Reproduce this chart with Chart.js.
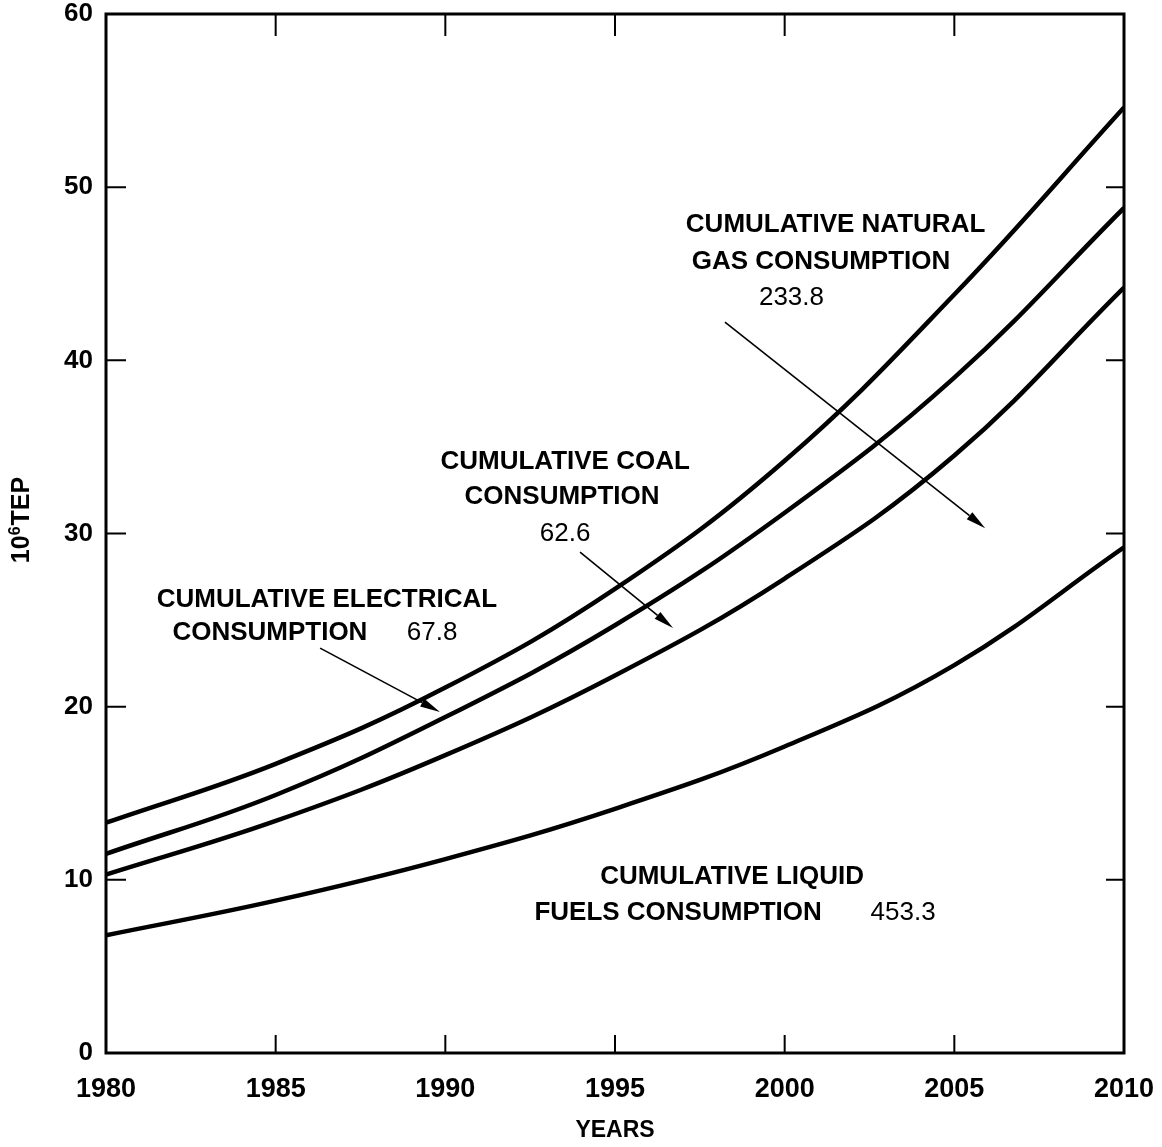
<!DOCTYPE html>
<html>
<head>
<meta charset="utf-8">
<script src="https://cdn.jsdelivr.net/npm/chart.js@4.4.0/dist/chart.umd.min.js"></script>
<style>
  html, body { margin: 0; padding: 0; background: #fff; }
</style>
</head>
<body>
<canvas id="chart" width="1162" height="1147"></canvas>
<script>
// cumulative consumption curves (10^6 TEP)
const years = [1980, 1985, 1990, 1995, 2000, 2005, 2010];
const liquidFuels = [6.8, 8.8, 11.2, 14.1, 17.7, 22.4, 29.2];
const withNaturalGas = [10.3, 13.4, 17.2, 21.8, 27.4, 34.5, 44.2];
const withCoal = [11.5, 14.9, 19.4, 24.7, 31.2, 39.0, 48.8];
const withElectrical = [13.3, 16.7, 21.1, 26.8, 34.2, 43.8, 54.6];

const yTicks = [0, 10, 20, 30, 40, 50, 60];
const xTicks = [1980, 1985, 1990, 1995, 2000, 2005, 2010];

// labels placed in data units (year, value)
const notes = [
    { text: "CUMULATIVE NATURAL", x: 2001.5, y: 47.8, bold: true },
    { text: "GAS CONSUMPTION", x: 2001.07, y: 45.67, bold: true },
    { text: "233.8", x: 2000.2, y: 43.6, bold: false },
    { text: "CUMULATIVE COAL", x: 1993.53, y: 34.12, bold: true },
    { text: "CONSUMPTION", x: 1993.44, y: 32.1, bold: true },
    { text: "62.6", x: 1993.53, y: 29.97, bold: false },
    { text: "CUMULATIVE ELECTRICAL", x: 1986.51, y: 26.15, bold: true },
    { text: "CONSUMPTION", x: 1984.83, y: 24.25, bold: true },
    { text: "67.8", x: 1989.61, y: 24.25, bold: false },
    { text: "CUMULATIVE LIQUID", x: 1998.45, y: 10.16, bold: true },
    { text: "FUELS CONSUMPTION", x: 1996.86, y: 8.08, bold: true },
    { text: "453.3", x: 2003.49, y: 8.08, bold: false }
];

const arrows = [
    { x1: 1998.24, y1: 42.21, x2: 2005.91, y2: 30.31 },
    { x1: 1993.97, y1: 28.93, x2: 1996.71, y2: 24.54 },
    { x1: 1986.31, y1: 23.38, x2: 1989.84, y2: 19.69 }
];

const FONT = "'Liberation Sans', Arial, Helvetica, sans-serif";

function toPoints(values) {
    return years.map((yr, i) => ({ x: yr, y: values[i] }));
}

function makeLine(label, values) {
    return {
        label: label,
        data: toPoints(values),
        borderColor: "#000",
        borderWidth: 4.5,
        pointRadius: 0,
        fill: false,
        tension: 0.4
    };
}

const decorations = {
    id: "decorations",
    afterDraw(chart) {
        const ctx = chart.ctx;
        const a = chart.chartArea;
        const xs = chart.scales.x;
        const ys = chart.scales.y;
        ctx.save();
        ctx.strokeStyle = "#000";
        ctx.fillStyle = "#000";

        // frame
        ctx.lineWidth = 3;
        ctx.strokeRect(a.left, a.top, a.right - a.left, a.bottom - a.top);

        // inward ticks
        ctx.lineWidth = 2;
        ctx.beginPath();
        yTicks.slice(1, -1).forEach(v => {
            const py = ys.getPixelForValue(v);
            ctx.moveTo(a.left, py); ctx.lineTo(a.left + 20, py);
            ctx.moveTo(a.right - 18, py); ctx.lineTo(a.right, py);
        });
        xTicks.slice(1, -1).forEach(v => {
            const px = xs.getPixelForValue(v);
            ctx.moveTo(px, a.bottom); ctx.lineTo(px, a.bottom - 18);
            ctx.moveTo(px, a.top); ctx.lineTo(px, a.top + 22);
        });
        ctx.stroke();

        // axis titles
        ctx.font = "bold 23px " + FONT;
        ctx.textAlign = "center";
        ctx.textBaseline = "middle";
        ctx.fillText("YEARS", 615, 1131);

        ctx.save();
        ctx.translate(22, 520);
        ctx.rotate(-Math.PI / 2);
        ctx.textAlign = "left";
        ctx.textBaseline = "middle";
        const big = "bold 25px " + FONT, small = "bold 16px " + FONT;
        ctx.font = big; const w1 = ctx.measureText("10").width;
        const w3 = ctx.measureText("TEP").width;
        ctx.font = small; const w2 = ctx.measureText("6").width + 1;
        let sx = -(w1 + w2 + w3) / 2;
        ctx.font = big; ctx.fillText("10", sx, 0);
        ctx.font = small; ctx.fillText("6", sx + w1, -6);
        ctx.font = big; ctx.fillText("TEP", sx + w1 + w2, 0);
        ctx.restore();

        // notes
        notes.forEach(n => {
            ctx.font = (n.bold ? "bold " : "") + "26px " + FONT;
            ctx.fillText(n.text, xs.getPixelForValue(n.x), ys.getPixelForValue(n.y));
        });

        // arrows
        ctx.lineWidth = 1.6;
        arrows.forEach(ar => {
            const x1 = xs.getPixelForValue(ar.x1), y1 = ys.getPixelForValue(ar.y1);
            const x2 = xs.getPixelForValue(ar.x2), y2 = ys.getPixelForValue(ar.y2);
            const ang = Math.atan2(y2 - y1, x2 - x1);
            const len = 20, half = 4.5;
            const bx = x2 - len * Math.cos(ang), by = y2 - len * Math.sin(ang);
            ctx.beginPath();
            ctx.moveTo(x1, y1); ctx.lineTo(bx, by);
            ctx.stroke();
            ctx.beginPath();
            ctx.moveTo(x2, y2);
            ctx.lineTo(bx + half * Math.sin(ang), by - half * Math.cos(ang));
            ctx.lineTo(bx - half * Math.sin(ang), by + half * Math.cos(ang));
            ctx.closePath();
            ctx.fill();
        });
        ctx.restore();
    }
};

new Chart(document.getElementById("chart").getContext("2d"), {
    type: "line",
    data: {
        datasets: [
            makeLine("Liquid fuels", liquidFuels),
            makeLine("+ Natural gas", withNaturalGas),
            makeLine("+ Coal", withCoal),
            makeLine("+ Electrical", withElectrical)
        ]
    },
    options: {
        responsive: false,
        devicePixelRatio: 1,
        animation: false,
        layout: { padding: { top: 14, right: 38, left: 0, bottom: 0 } },
        plugins: { legend: { display: false }, tooltip: { enabled: false } },
        scales: {
            x: {
                type: "linear",
                min: 1980,
                max: 2010,
                afterBuildTicks: s => { s.ticks = xTicks.map(v => ({ value: v })); },
                afterFit: s => {
                    s.height = 94;
                    s.paddingLeft = 0; s.paddingRight = 0;
                },
                ticks: {
                    color: "#000",
                    font: { family: FONT, size: 27, weight: "bold" },
                    padding: 20,
                    maxRotation: 0,
                    callback: v => String(v)
                },
                grid: { display: false, drawTicks: false },
                border: { display: false }
            },
            y: {
                min: 0,
                max: 60,
                afterBuildTicks: s => { s.ticks = yTicks.map(v => ({ value: v })); },
                afterFit: s => {
                    s.width = 106;
                    s.paddingTop = 0; s.paddingBottom = 0;
                },
                ticks: {
                    color: "#000",
                    font: { family: FONT, size: 26, weight: "bold" },
                    padding: 13
                },
                grid: { display: false, drawTicks: false },
                border: { display: false }
            }
        }
    },
    plugins: [decorations]
});
</script>
</body>
</html>
